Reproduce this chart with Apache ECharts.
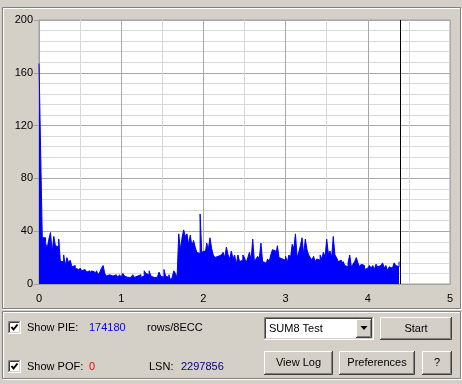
<!DOCTYPE html>
<html><head><meta charset="utf-8">
<script src="https://cdn.jsdelivr.net/npm/echarts@6/dist/echarts.min.js"></script>
<style>html,body{margin:0;padding:0;background:#D4D0C8}#c{width:462px;height:384px}</style>
</head><body><div id="c"></div>
<script>
// ---- data ----
const STEP = 0.02;                 // x spacing of samples (units on the 0..5 axis)
const CURSOR_X = 4.395;            // position of the black progress line
const xTicks = [0, 1, 2, 3, 4, 5];
const yTicks = [0, 40, 80, 120, 160, 200];
const pieValues = [
 167,100,35,35,31,27,34,39,24,36,29,28,34,17,17,22,14,20,16,18,
 13,14,12,11,9,12,10,11,12,9,10,8,10,9,7,10,7,9,12,14,
 8,6,7,8,6,5,7,6,5,7,5,8,6,5,6,5,6,7,5,6,
 6,7,5,6,10,8,7,10,6,5,6,5,6,9,6,5,11,6,5,7,
 3,5,10,8,5,38,26,35,41,36,38,30,37,29,33,28,24,23,53,24,
 25,22,31,26,35,27,22,20,21,22,22,21,24,20,28,22,19,25,19,22,
 15,22,17,18,22,20,16,20,24,18,34,17,19,21,19,31,17,16,14,19,
 17,22,26,25,21,29,20,19,20,18,21,16,22,20,30,27,38,20,24,29,
 35,22,34,26,22,20,18,21,17,19,18,22,19,24,20,34,23,25,20,36,
 22,20,17,18,15,17,14,13,16,22,13,15,17,20,16,13,15,14,11,12,
 11,14,12,14,11,15,13,14,15,16,12,14,10,13,12,12,16,14,13,17
];
const pieTotal = '174180';
const pofTotal = '0';
const lsn = '2297856';

// ---- helpers for the classic window widgets (styling only) ----
const BG = '#D4D0C8';
const FONT = '11px "Liberation Sans", Arial, sans-serif';
function line(pts, color){ return {type:'polyline', shape:{points:pts}, style:{stroke:color, fill:null, lineWidth:1}, silent:true}; }
function etched(x,y,w,h){
  return [
    {type:'rect', shape:{x:x+1.5,y:y+1.5,width:w-2,height:h-2}, style:{stroke:'#FFFFFF',fill:null,lineWidth:1}, silent:true},
    {type:'rect', shape:{x:x+0.5,y:y+0.5,width:w-2,height:h-2}, style:{stroke:'#808080',fill:null,lineWidth:1}, silent:true}
  ];
}
function button(x,y,w,h,label){
  return [
    {type:'rect', shape:{x:x,y:y,width:w,height:h}, style:{fill:BG}, silent:true},
    line([[x+0.5,y+h-1],[x+0.5,y+0.5],[x+w-1,y+0.5]], '#FFFFFF'),
    line([[x,y+h-0.5],[x+w-0.5,y+h-0.5],[x+w-0.5,y]], '#404040'),
    line([[x+1,y+h-1.5],[x+w-1.5,y+h-1.5],[x+w-1.5,y+1]], '#808080'),
    {type:'text', style:{text:label, x:x+w/2, y:y+h/2, textAlign:'center', textVerticalAlign:'middle', fill:'#000', font:FONT}, silent:true}
  ];
}
function sunken(x,y,w,h,fill){
  return [
    {type:'rect', shape:{x:x,y:y,width:w,height:h}, style:{fill:fill}, silent:true},
    line([[x+0.5,y+h-1],[x+0.5,y+0.5],[x+w-1,y+0.5]], '#808080'),
    line([[x+1.5,y+h-2],[x+1.5,y+1.5],[x+w-2,y+1.5]], '#404040'),
    line([[x,y+h-0.5],[x+w-0.5,y+h-0.5],[x+w-0.5,y]], '#FFFFFF'),
    line([[x+1,y+h-1.5],[x+w-1.5,y+h-1.5],[x+w-1.5,y+1]], BG)
  ];
}
function checkbox(x,y){
  return sunken(x,y,13,13,'#FFFFFF').concat([
    {type:'polyline', shape:{points:[[x+3.5,y+6],[x+5.5,y+8.5],[x+9.5,y+3.5]]}, style:{stroke:'#000',fill:null,lineWidth:2}, silent:true}
  ]);
}
function text(t,x,y,color,align){
  return {type:'text', style:{text:t, x:x, y:y, textAlign:align||'left', textVerticalAlign:'middle', fill:color||'#000', font:FONT}, silent:true};
}

let g = [];
g = g.concat(etched(2,7,460,303));
g = g.concat(etched(2,311,460,69));
g = g.concat(checkbox(8,321));
g.push(text('Show PIE:',27,327.5));
g.push(text(pieTotal,89,327.5,'#0000FF'));
g.push(text('rows/8ECC',147,327.5));
g = g.concat(checkbox(8,360));
g.push(text('Show POF:',27,366.5));
g.push(text(pofTotal,89,366.5,'#FF0000'));
g.push(text('LSN:',149,366.5));
g.push(text(lsn,181,366.5,'#000080'));
g = g.concat(sunken(264,317,110,23,'#FFFFFF'));
g.push(text('SUM8 Test',269,329));
g = g.concat(button(356,319,16,19,''));
g.push({type:'polygon', shape:{points:[[360.5,326],[367.5,326],[364,330]]}, style:{fill:'#000'}, silent:true});
g = g.concat(button(380,317,72,23,'Start'));
g = g.concat(button(264,351,69,24,'View Log'));
g = g.concat(button(339,351,76,24,'Preferences'));
g = g.concat(button(422,351,30,24,'?'));

const seriesData = pieValues.map((v,i)=>[+(i*STEP).toFixed(4), v]);

const chart = echarts.init(document.getElementById('c'), null, {renderer:'canvas'});
chart.setOption({
  backgroundColor: BG,
  animation: false,
  textStyle: {fontFamily: '"Liberation Sans", Arial, sans-serif'},
  grid: {left:39, top:20, width:411, height:264, show:true, backgroundColor:'#FFFFFF', borderColor:'#A0A0A0', borderWidth:1, containLabel:false},
  xAxis: {
    type:'value', min:xTicks[0], max:xTicks[xTicks.length-1], interval:1,
    axisLine:{show:true, lineStyle:{color:'#A0A0A0'}},
    axisTick:{show:false},
    axisLabel:{color:'#000', fontSize:11, margin:9, fontFamily:'"Liberation Sans", Arial, sans-serif'},
    splitLine:{show:true, lineStyle:{color:'#A8A8A8', width:1}},
    minorTick:{show:false, splitNumber:2},
    minorSplitLine:{show:true, lineStyle:{color:'#D8D8D8', width:1}}
  },
  yAxis: {
    type:'value', min:yTicks[0], max:yTicks[yTicks.length-1], interval:40,
    axisLine:{show:true, lineStyle:{color:'#A0A0A0'}},
    axisTick:{show:true, length:5, lineStyle:{color:'#A0A0A0'}},
    axisLabel:{color:'#000', fontSize:11, margin:6, fontFamily:'"Liberation Sans", Arial, sans-serif'},
    splitLine:{show:true, lineStyle:{color:'#A8A8A8', width:1}},
    minorTick:{show:false, splitNumber:5},
    minorSplitLine:{show:true, lineStyle:{color:'#D8D8D8', width:1}}
  },
  series: [{
    type:'line', step:'end', data:seriesData, symbol:'none', silent:true,
    lineStyle:{color:'#0000FF', width:1},
    areaStyle:{color:'#0000FF', opacity:1},
    markLine:{silent:true, symbol:['none','none'], label:{show:false},
      lineStyle:{color:'#000000', width:1, type:'solid'},
      data:[{xAxis:CURSOR_X}]}
  }],
  graphic: g
});
</script>
</body></html>
